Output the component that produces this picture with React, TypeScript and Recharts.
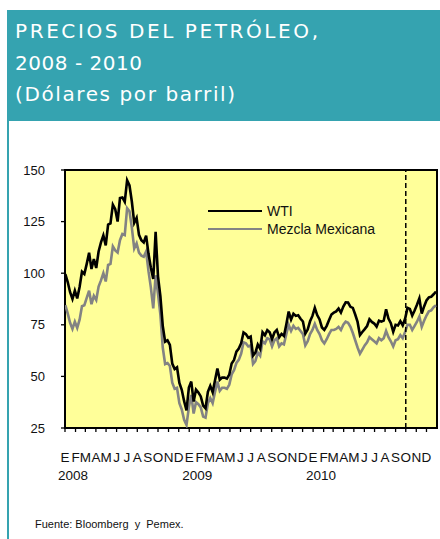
import React from "react";
import {
  LineChart,
  Line,
  XAxis,
  YAxis,
  CartesianGrid,
  ReferenceLine,
  ReferenceArea,
} from "recharts";

// ---------- text ----------
const TITLE_LINES = ["PRECIOS DEL PETRÓLEO,", "2008 - 2010", "(Dólares por barril)"];
const SOURCE = "Fuente: Bloomberg  y  Pemex.";
const SERIES_NAMES = ["WTI", "Mezcla Mexicana"];

// ---------- axes ----------
const MONTH_LETTERS = ["E", "F", "M", "A", "M", "J", "J", "A", "S", "O", "N", "D"];
const YEARS = [2008, 2009, 2010];
const Y_TICKS = [25, 50, 75, 100, 125, 150];
const FIRST_OBS = "2008-01-02"; // weekly observations
const OBS_STEP_DAYS = 7;
const MARKER_DATE = "2010-10-01"; // dashed vertical line

// ---------- series (US$/barrel, weekly) ----------
const WTI = [
  // 2008
  99.6, 95.7, 90.8, 87.5, 91.6, 87.8, 93.3, 100.7, 99.6, 104.5,
  109.9, 102.0, 106.9, 102.5, 110.5, 114.9, 118.3, 113.5, 123.5, 124.1,
  133.2, 131.0, 125.0, 136.4, 136.7, 134.6, 145.0, 142.5, 134.6, 124.4,
  126.8, 118.6, 116.0, 114.9, 118.2, 109.4, 102.6, 97.2, 120.0, 98.5,
  88.9, 74.5, 66.8, 67.5, 65.3, 56.2, 53.6, 54.4, 46.8, 43.5,
  38.0, 33.5, 44.6,
  // 2009
  47.5, 37.8, 43.6, 42.2, 40.3, 35.9, 34.6, 42.5, 45.4, 42.3,
  48.1, 53.8, 48.4, 49.4, 49.4, 48.9, 50.9, 56.3, 58.0, 62.0,
  63.5, 66.1, 71.3, 70.5, 68.7, 69.3, 60.1, 61.5, 65.4, 63.4,
  71.4, 69.9, 72.4, 71.4, 68.1, 71.3, 72.5, 68.9, 70.6, 69.6,
  75.2, 81.4, 77.5, 80.4, 79.3, 79.6, 77.9, 76.6, 70.7, 72.7,
  76.7, 79.3,
  // 2010
  83.2, 79.7, 77.6, 73.7, 72.5, 74.5, 77.3, 80.0, 80.9, 81.5,
  82.9, 80.9, 83.8, 85.9, 85.8, 83.7, 83.2, 80.0, 76.4, 70.0,
  71.5, 72.9, 74.4, 77.7, 76.4, 75.6, 74.1, 77.0, 76.5, 77.0,
  82.5, 78.0, 75.8, 71.6, 75.0, 74.7, 76.8, 74.7, 77.9, 83.2,
  82.7, 79.5, 81.9, 84.7, 87.8, 80.4, 83.9, 86.8, 88.3, 88.6,
  89.8, 91.1,
];

const MEZCLA = [
  // 2008
  84.5, 80.5, 76.0, 73.0, 76.5, 73.5, 77.5, 84.0, 84.5, 88.0,
  91.5, 85.0, 89.0, 87.0, 93.5, 96.5, 100.0, 96.0, 104.0, 104.5,
  113.0, 111.0, 110.0, 116.0, 119.0, 118.5, 131.5, 130.0, 122.0, 112.0,
  114.5, 110.0, 108.5, 108.0, 110.5, 101.0, 93.0, 83.0, 99.0, 90.0,
  80.0, 64.0, 56.0, 56.5, 55.0, 47.0, 44.0, 44.5, 37.0, 34.0,
  29.0, 26.5, 35.0,
  // 2009
  41.0, 32.0, 37.5, 36.5, 35.0, 30.5, 30.0, 37.0, 39.5, 37.0,
  42.5, 47.5, 43.0, 44.5, 44.5, 44.0, 46.0, 51.0, 53.0, 56.5,
  58.0, 61.0, 66.5, 66.0, 64.5, 65.0, 56.0, 57.5, 61.5, 60.0,
  67.0, 66.0, 68.5, 68.0, 64.5, 67.5, 68.5, 64.5, 66.0, 65.5,
  70.5, 75.0, 72.0, 74.5, 73.0, 73.5, 72.0, 70.5, 65.0, 67.0,
  70.5, 72.5,
  // 2010
  75.5, 72.5, 70.5, 67.5, 66.0, 68.0, 70.5, 72.5, 72.5, 73.0,
  74.0, 72.5, 75.0, 76.5, 76.0, 74.0, 71.0, 67.5, 64.0, 61.0,
  63.0, 65.0, 66.5, 69.0, 68.0, 67.0, 66.0, 68.5, 67.5, 68.5,
  72.0, 69.0, 67.0, 64.5, 67.5, 68.0, 70.0, 68.5, 71.5, 75.0,
  75.0, 72.5, 74.5, 76.5, 79.0, 74.0, 77.0, 79.5, 81.5, 82.0,
  83.5, 84.5,
];

// ---------- derived ----------
const DAY_MS = 86400000;
const ORIGIN = Date.UTC(YEARS[0], 0, 1);
const toDay = (iso: string) => (Date.parse(iso) - ORIGIN) / DAY_MS;
const firstDay = toDay(FIRST_OBS);
const data = WTI.map((v, i) => ({
  day: firstDay + i * OBS_STEP_DAYS,
  wti: v,
  mezcla: MEZCLA[i],
}));
const monthTicks: number[] = [];
YEARS.forEach((y) => {
  for (let m = 0; m < 12; m++) monthTicks.push((Date.UTC(y, m, 1) - ORIGIN) / DAY_MS);
});
const domainEnd = (Date.UTC(YEARS[YEARS.length - 1] + 1, 0, 1) - ORIGIN) / DAY_MS;
const markerDay = toDay(MARKER_DATE);

const TEAL = "#35A3B0";
const PLOT_BG = "#FFFF99";
const GRAY = "#838383";
const CHART_FONT = "'Liberation Sans', Arial, sans-serif";

const MonthTick = (props: any) => {
  const { x, y, payload } = props;
  const idx = monthTicks.indexOf(payload.value);
  if (idx < 0) return null;
  return (
    <g>
      <text x={x} y={y + 30} textAnchor="middle" fontSize={13.5} fontFamily={CHART_FONT} fill="#111">
        {MONTH_LETTERS[idx % 12]}
      </text>
      {idx % 12 === 0 && (
        <text x={x + 8} y={y + 48} textAnchor="middle" fontSize={13.5} fontFamily={CHART_FONT} fill="#111">
          {YEARS[idx / 12]}
        </text>
      )}
    </g>
  );
};

export default function App() {
  return (
    <div
      style={{
        position: "absolute",
        left: 0,
        top: 0,
        width: 440,
        height: 539,
        background: "#fff",
        overflow: "hidden",
      }}
    >
      <div style={{ position: "absolute", left: 0, top: 0 }}>
        <LineChart
          width={440}
          height={539}
          data={data}
          margin={{ top: 170, right: 3, bottom: 81, left: 0 }}
        >
          <CartesianGrid horizontal={false} vertical={false} fill={PLOT_BG} />
          <XAxis
            dataKey="day"
            type="number"
            domain={[0, domainEnd]}
            ticks={monthTicks}
            interval={0}
            axisLine={false}
            tickLine={{ stroke: "#000", strokeWidth: 1.3 }}
            tickSize={4}
            tickMargin={0}
            height={30}
            tick={<MonthTick />}
            allowDataOverflow
          />
          <YAxis
            type="number"
            domain={[25, 150]}
            ticks={Y_TICKS}
            interval={0}
            width={65}
            axisLine={false}
            tickLine={{ stroke: "#000", strokeWidth: 1.3 }}
            tickSize={4}
            tickMargin={16}
            tick={{ fontSize: 13, fill: "#111", fontFamily: CHART_FONT }}
            allowDataOverflow
          />
          <Line
            type="linear"
            dataKey="mezcla"
            name={SERIES_NAMES[1]}
            stroke={GRAY}
            strokeWidth={2.6}
            dot={false}
            isAnimationActive={false}
          />
          <Line
            type="linear"
            dataKey="wti"
            name={SERIES_NAMES[0]}
            stroke="#000"
            strokeWidth={2.6}
            dot={false}
            isAnimationActive={false}
          />
          <ReferenceLine
            x={markerDay}
            stroke="#000"
            strokeWidth={1.5}
            strokeDasharray="5 3"
            ifOverflow="extendDomain"
          />
          <ReferenceArea
            x1={0}
            x2={domainEnd}
            y1={25}
            y2={150}
            fill="none"
            fillOpacity={0}
            stroke="#000"
            strokeWidth={2}
          />
        </LineChart>
      </div>

      {/* header + left rule */}
      <svg
        width={440}
        height={539}
        style={{ position: "absolute", left: 0, top: 0, pointerEvents: "none" }}
      >
        <rect x={7} y={10} width={433} height={111} fill={TEAL} />
        <rect x={7} y={121} width={2} height={418} fill={TEAL} />
        {TITLE_LINES.map((t, i) => (
          <text
            key={i}
            x={15}
            y={[38, 70, 101][i]}
            fill="#fff"
            fontSize={20}
            fontFamily="'DejaVu Sans', sans-serif"
            textLength={[303, 127, 220][i]}
            lengthAdjust="spacing"
          >
            {t}
          </text>
        ))}

        {/* legend */}
        <line x1={208} x2={262} y1={211} y2={211} stroke="#000" strokeWidth={2.2} />
        <text x={267} y={216} fontSize={14} fontFamily={CHART_FONT} fill="#111">
          {SERIES_NAMES[0]}
        </text>
        <line x1={208} x2={262} y1={229} y2={229} stroke={GRAY} strokeWidth={2.2} />
        <text x={267} y={234} fontSize={14} fontFamily={CHART_FONT} fill="#111">
          {SERIES_NAMES[1]}
        </text>

        <text
          x={35}
          y={528}
          fontSize={11}
          fontFamily={CHART_FONT}
          fill="#111"
          style={{ whiteSpace: "pre" }}
        >
          {SOURCE}
        </text>
      </svg>
    </div>
  );
}
